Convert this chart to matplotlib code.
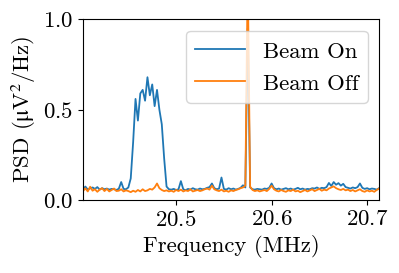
import numpy as np
import matplotlib
matplotlib.use("Agg")
import matplotlib.pyplot as plt

plt.rcParams['font.family'] = ['cmr10', 'DejaVu Serif']
plt.rcParams['mathtext.fontset'] = 'stix'
plt.rcParams['axes.formatter.use_mathtext'] = True
plt.rcParams['font.size'] = 16.4

# frequency bins (MHz)
freq = np.linspace(20.4025, 20.7125, 125)

beam_on = [
    0.060, 0.075, 0.058, 0.065, 0.070, 0.062, 0.072, 0.058, 0.066, 0.060,
    0.064, 0.058, 0.062, 0.060, 0.056, 0.063, 0.100, 0.062, 0.060, 0.070,
    0.120, 0.320, 0.560, 0.440, 0.590, 0.610, 0.550, 0.680, 0.580, 0.640,
    0.520, 0.610, 0.500, 0.420, 0.230, 0.075, 0.060, 0.058, 0.062, 0.056,
    0.060, 0.105, 0.060, 0.055, 0.062, 0.058, 0.066, 0.060, 0.058, 0.064,
    0.060, 0.062, 0.068, 0.072, 0.092, 0.066, 0.060, 0.064, 0.125, 0.062,
    0.058, 0.066, 0.060, 0.064, 0.058, 0.062, 0.068, 0.082, 0.070, 0.950,
    0.070, 0.060, 0.058, 0.062, 0.060, 0.058, 0.064, 0.062, 0.068, 0.092,
    0.066, 0.060, 0.064, 0.058, 0.062, 0.066, 0.060, 0.064, 0.058, 0.062,
    0.068, 0.060, 0.064, 0.058, 0.062, 0.060, 0.066, 0.064, 0.070, 0.062,
    0.068, 0.066, 0.072, 0.095, 0.078, 0.100, 0.085, 0.094, 0.080, 0.090,
    0.072, 0.068, 0.064, 0.070, 0.066, 0.072, 0.092, 0.068, 0.062, 0.066,
    0.060, 0.064, 0.062, 0.058, 0.066,
]

beam_off = [
    0.050, 0.065, 0.048, 0.074, 0.052, 0.060, 0.046, 0.058, 0.066, 0.050,
    0.062, 0.048, 0.056, 0.064, 0.050, 0.052, 0.060, 0.048, 0.054, 0.050,
    0.044, 0.052, 0.046, 0.056, 0.048, 0.060, 0.050, 0.054, 0.062, 0.058,
    0.070, 0.092, 0.066, 0.056, 0.050, 0.054, 0.048, 0.052, 0.046, 0.056,
    0.050, 0.058, 0.048, 0.054, 0.050, 0.060, 0.048, 0.052, 0.056, 0.050,
    0.054, 0.060, 0.064, 0.058, 0.080, 0.060, 0.054, 0.050, 0.058, 0.048,
    0.052, 0.046, 0.054, 0.050, 0.056, 0.060, 0.066, 0.070, 0.080, 1.250,
    0.075, 0.056, 0.050, 0.054, 0.048, 0.052, 0.056, 0.050, 0.062, 0.080,
    0.060, 0.052, 0.048, 0.056, 0.050, 0.046, 0.054, 0.050, 0.058, 0.048,
    0.052, 0.044, 0.050, 0.056, 0.048, 0.054, 0.060, 0.050, 0.056, 0.062,
    0.052, 0.058, 0.054, 0.064, 0.070, 0.076, 0.066, 0.060, 0.056, 0.062,
    0.054, 0.058, 0.050, 0.056, 0.048, 0.054, 0.060, 0.050, 0.046, 0.054,
    0.048, 0.052, 0.046, 0.056, 0.064,
]

fig = plt.figure(figsize=(3.99, 2.73), dpi=100)
ax = fig.add_axes([0.208, 0.267, 0.742, 0.662])

ax.plot(freq, beam_on, lw=1.3, label='Beam On')
ax.plot(freq, beam_off, lw=1.3, label='Beam Off')

ax.set_xlim(20.4025, 20.7125)
ax.set_ylim(0, 1.0)
ax.set_xticks([20.5, 20.6, 20.7])
ax.set_yticks([0.0, 0.5, 1.0])
ax.set_xlabel('Frequency (MHz)')
ax.set_ylabel(r'PSD ($\mathrm{\mu}$V$^2$/Hz)')
ax.legend(loc='upper right', handlelength=2.17, handleheight=1.0,
          labelspacing=0.44, handletextpad=0.8)

fig.savefig('out.png', dpi=100)
